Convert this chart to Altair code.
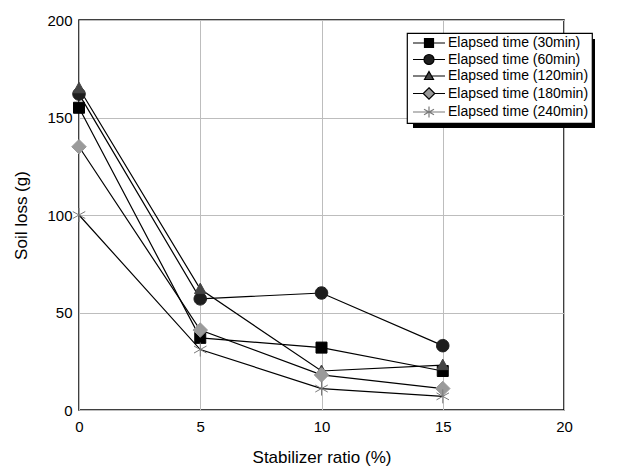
import altair as alt
import pandas as pd

ratio = [0, 5, 10, 15]
series_names = [
    "Elapsed time (30min)",
    "Elapsed time (60min)",
    "Elapsed time (120min)",
    "Elapsed time (180min)",
    "Elapsed time (240min)",
]
loss_30 = [155, 37, 32, 20]
loss_60 = [162, 57, 60, 33]
loss_120 = [165, 62, 20, 23]
loss_180 = [135, 41, 18, 11]
loss_240 = [100, 31, 11, 7]
x_ticks = [0, 5, 10, 15, 20]
y_ticks = [0, 50, 100, 150, 200]

fill_colors = ["#000000", "#1e1e1e", "#444444", "#9a9a9a", "transparent"]
stroke_colors = ["#000000", "#1e1e1e", "#444444", "#9a9a9a", "#7a7a7a"]

# marker shapes (unit = 5 px at size 100)
sq = "M-1.1,-1.1H1.1V1.1H-1.1Z"
circ = "M1.25,0A1.25,1.25,0,1,1,-1.25,0A1.25,1.25,0,1,1,1.25,0Z"
tri = "M0,-1.2L1.15,0.9L-1.15,0.9Z"
dia = "M0,-1.45L1.45,0L0,1.45L-1.45,0Z"
star = "M0,-1.4V1.4M-1.25,-0.7L1.25,0.7M-1.25,0.7L1.25,-0.7"
data_shapes = [sq, circ, tri, dia, star]

# legend shapes (smaller markers with a line through)
lsq = "M-0.9,-0.9H0.9V0.9H-0.9Z"
lcirc = "M1,0A1,1,0,1,1,-1,0A1,1,0,1,1,1,0Z"
ltri = "M0,-0.9L0.9,0.7L-0.9,0.7Z"
ldia = "M0,-1.15L1.15,0L0,1.15L-1.15,0Z"
lstar = "M0,-1.1V1.1M-1,-0.55L1,0.55M-1,0.55L1,-0.55"


def with_line(shape, gap):
    if gap <= 0:
        return "M-3.2,0H3.2" + shape
    return "M-3.2,0H-%s" % gap + "M%s,0H3.2" % gap + shape


legend_shapes = [with_line(lsq, 0.9), with_line(lcirc, 1), with_line(ltri, 0.45),
                 with_line(ldia, 1.15), with_line(lstar, 0)]

rows = []
for name, vals in zip(series_names, [loss_30, loss_60, loss_120, loss_180, loss_240]):
    for r, v in zip(ratio, vals):
        rows.append({"ratio": r, "loss": v, "series": name})
df = pd.DataFrame(rows)

FONT = "Liberation Sans"

x = alt.X("ratio:Q", scale=alt.Scale(domain=[0, 20], nice=False),
          axis=alt.Axis(values=x_ticks, title="Stabilizer ratio (%)", labelPadding=9,
                        titlePadding=15, labelFlush=False))
y = alt.Y("loss:Q", scale=alt.Scale(domain=[0, 200], nice=False),
          axis=alt.Axis(values=y_ticks, title="Soil loss (g)", labelPadding=7,
                        titlePadding=16, labelFlush=False))

base = alt.Chart(df)

shadow = alt.Chart(alt.Data(values=[{}])).mark_rect(color="black").encode(
    x=alt.value(334), x2=alt.value(516), y=alt.value(19), y2=alt.value(108)
)

lines = base.mark_line(color="black", strokeWidth=1.2).encode(
    x=x, y=y, detail="series:N"
)

points = base.mark_point(filled=True, size=100, opacity=1, strokeWidth=1).encode(
    x=x, y=y,
    shape=alt.Shape("series:N", scale=alt.Scale(domain=series_names, range=data_shapes), legend=None),
    fill=alt.Fill("series:N", scale=alt.Scale(domain=series_names, range=fill_colors), legend=None),
    stroke=alt.Stroke("series:N", scale=alt.Scale(domain=series_names, range=stroke_colors), legend=None),
)

leg = alt.Legend(
    title=None, orient="none", legendX=328, legendY=13,
    fillColor="white", strokeColor="black", padding=3,
    symbolSize=100, symbolStrokeWidth=1.2, symbolOffset=12, labelOffset=12,
    labelFont=FONT, labelFontSize=14, labelColor="black", rowPadding=1.5,
    symbolOpacity=1, zindex=1,
)

legend_layer = base.mark_point(filled=True, size=100, opacity=1, strokeWidth=1.2).encode(
    x=x, y=y,
    shape=alt.Shape("series:N", scale=alt.Scale(domain=series_names, range=legend_shapes), legend=leg),
    fill=alt.Fill("series:N", scale=alt.Scale(domain=series_names, range=fill_colors), legend=leg),
    stroke=alt.Stroke("series:N", scale=alt.Scale(domain=series_names,
                                                  range=["#000000"] * 4 + ["#7a7a7a"]), legend=leg),
).transform_filter("false")

chart = alt.layer(shadow, lines, points, legend_layer).resolve_scale(
    shape="independent", fill="independent", stroke="independent"
).properties(
    width=485, height=390,
    autosize=alt.AutoSizeParams(type="none"),
    padding={"left": 79, "top": 20, "right": 65, "bottom": 58},
).configure_view(
    stroke="black", strokeWidth=1.5
).configure_axis(
    domain=False, ticks=False, tickSize=0,
    grid=True, gridColor="#bdbdbd", gridWidth=1,
    labelFont=FONT, labelFontSize=15, labelColor="black",
    titleFont=FONT, titleFontSize=17, titleFontWeight="normal", titleColor="black",
).configure_legend(
    strokeWidth=1.2
)

chart.save("out.html", embed_options={"renderer": "svg", "actions": False})
